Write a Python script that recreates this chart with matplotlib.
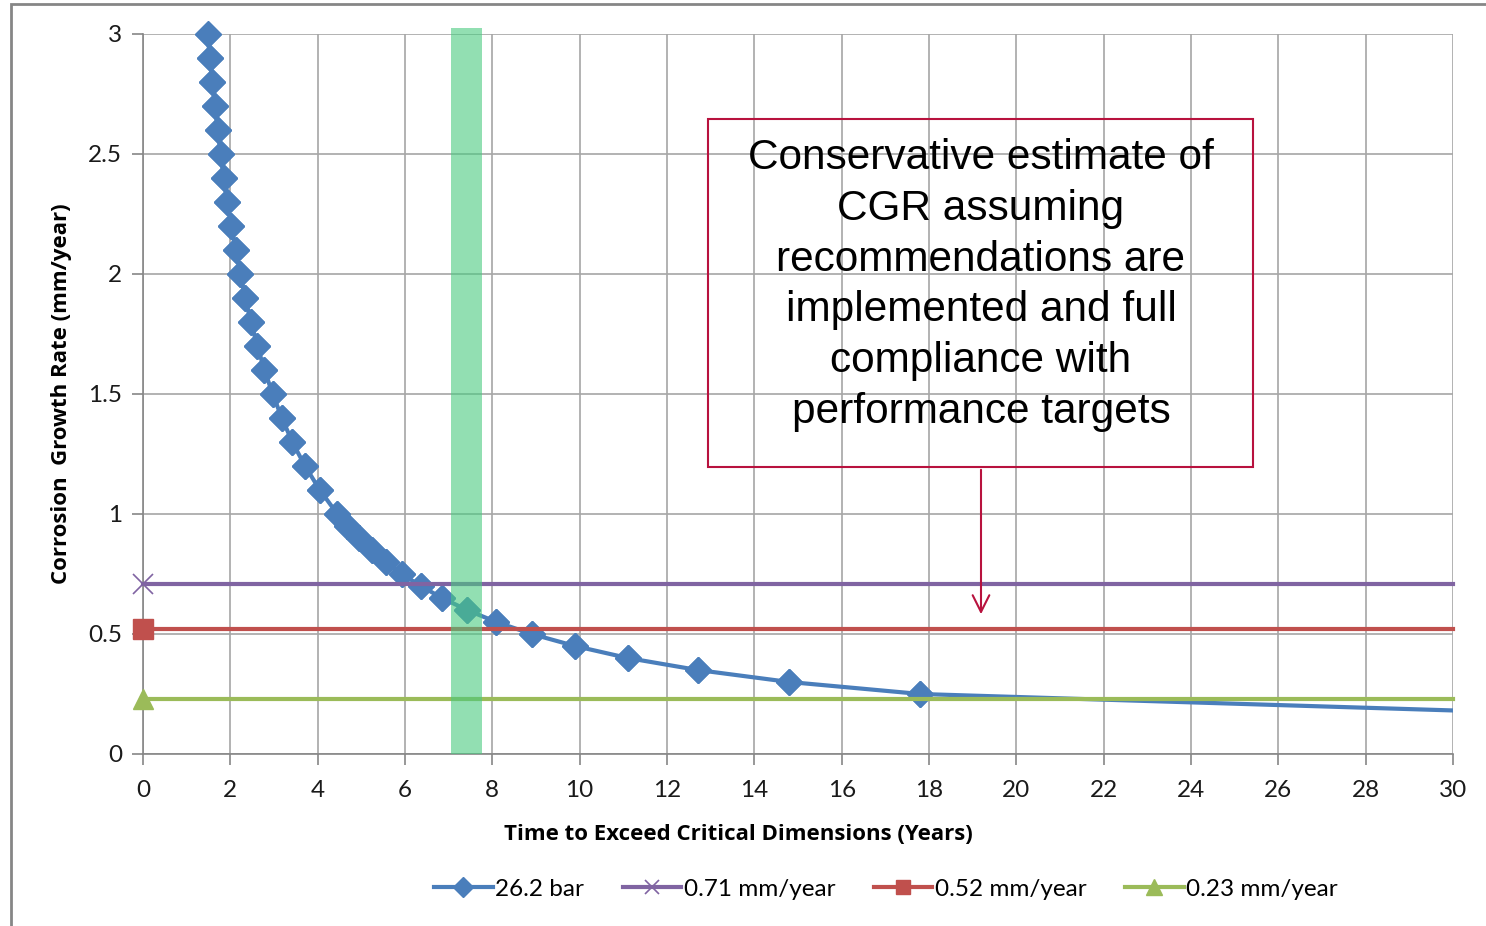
import numpy as np
import matplotlib
matplotlib.use('Agg')
import matplotlib.pyplot as plt
from matplotlib.patches import Rectangle

# CGR curve (26.2 bar): time to exceed critical dimensions vs corrosion growth rate
cgr = [3.0, 2.9, 2.8, 2.7, 2.6, 2.5, 2.4, 2.3, 2.2, 2.1, 2.0, 1.9, 1.8, 1.7, 1.6,
       1.5, 1.4, 1.3, 1.2, 1.1, 1.0, 0.95, 0.9, 0.85, 0.8, 0.75, 0.7, 0.65, 0.6,
       0.55, 0.5, 0.45, 0.4, 0.35, 0.3, 0.25, 0.1]
years = [1.48, 1.53, 1.59, 1.65, 1.71, 1.78, 1.85, 1.93, 2.02, 2.12, 2.23, 2.34,
         2.47, 2.62, 2.78, 2.97, 3.18, 3.42, 3.71, 4.05, 4.45, 4.68, 4.94, 5.24,
         5.56, 5.93, 6.36, 6.85, 7.42, 8.09, 8.90, 9.89, 11.1, 12.7, 14.8, 17.8, 44.5]

limit_vals = [0.71, 0.52, 0.23]
limit_labels = ['0.71 mm/year', '0.52 mm/year', '0.23 mm/year']
limit_x = [0, 30]

band = [7.05, 7.76]

note = ('Conservative estimate of\nCGR assuming\nrecommendations are\n'
        'implemented and full\ncompliance with\nperformance targets')

blue = '#4A7EBB'
colors = ['#8064A2', '#C0504D', '#9BBB59']
markers = ['x', 's', '^']
msizes = [14, 14, 15]
gridc = '#A6A6A6'
red_box = '#B8123E'
labfont = 'Open Sans'

W, H = 1486, 926
fig = plt.figure(figsize=(W / 100, H / 100), dpi=100)
ax = fig.add_axes([143 / W, 1 - 754 / H, (1453 - 143) / W, (754 - 34) / H])

# outer chart border
fig.patches.append(Rectangle((11 / W, -0.05), 1.1, 1 - 4 / H + 0.05, transform=fig.transFigure,
                             fill=False, edgecolor='#868686', linewidth=2))

ax.axvspan(band[0], band[1], ymin=0, ymax=1.008, color='#49CA80', alpha=0.6,
           linewidth=0, clip_on=False, zorder=4)

t = np.array(years)
c = np.array(cgr)
inside = t <= 30
ax.plot(t, c, color=blue, lw=3, marker='D', ms=13, markevery=list(np.where(inside)[0]),
        label='26.2 bar', zorder=3)
ax.plot(t[inside], c[inside], 'D', color=blue, ms=13, clip_on=False, zorder=3)

for v, lab, col, m, s in zip(limit_vals, limit_labels, colors, markers, msizes):
    ax.plot(limit_x, [v, v], color=col, lw=3, marker=m, ms=s, markevery=[0],
            mew=1.2 if m == 'x' else 1, label=lab, clip_on=False, zorder=3)

ax.set_xlim(0, 30)
ax.set_ylim(0, 3)
ax.set_xticks(np.arange(0, 31, 2))
ax.set_yticks([0, 0.5, 1, 1.5, 2, 2.5, 3])
ax.set_yticklabels(['0', '0.5', '1', '1.5', '2', '2.5', '3'])
ax.grid(True, color=gridc, linewidth=1.2)
ax.set_axisbelow(True)
for side in ['top', 'right']:
    ax.spines[side].set_visible(False)
for side in ['left', 'bottom']:
    ax.spines[side].set_color('#868686')
    ax.spines[side].set_linewidth(1.2)
ax.tick_params(axis='both', colors='#868686', length=8, width=1.2, labelsize=17.5,
               labelcolor='#1A1A1A')
ax.tick_params(axis='x', pad=11)
ax.tick_params(axis='y', pad=7)
for lbl in ax.get_xticklabels() + ax.get_yticklabels():
    lbl.set_fontfamily('Lato')

ax.set_xlabel('Time to Exceed Critical Dimensions (Years)', fontsize=16,
              fontweight='bold', family=labfont)
ax.set_ylabel('Corrosion  Growth Rate (mm/year)', fontsize=16, fontweight='bold',
              family=labfont)
ax.xaxis.label.set_va('center')
ax.yaxis.label.set_va('center')
ax.xaxis.set_label_coords((738 - 143) / (1453 - 143), -(835 - 754) / (754 - 34))
ax.yaxis.set_label_coords(-(143 - 62) / (1453 - 143), (754 - 394) / (754 - 34))

# annotation box and arrow
ax.add_patch(Rectangle((708, H - 467), 1253 - 708, 467 - 119, transform=None,
                       fill=True, facecolor='none', edgecolor=red_box, linewidth=1.5,
                       zorder=5))
fig.text(981 / W, 1 - 285 / H, note, ha='center', va='center', fontsize=30.5,
         family='Liberation Sans', linespacing=1.35, color='black')
ax.annotate('', xy=(981 / W, 1 - 617 / H), xytext=(981 / W, 1 - 467 / H),
            xycoords='figure fraction', textcoords='figure fraction',
            arrowprops=dict(arrowstyle='->', color=red_box, lw=1.5,
                            mutation_scale=30))

leg = fig.legend(loc='center', bbox_to_anchor=(886 / W, 1 - 889 / H), ncol=4,
                 frameon=False, prop={'family': 'Lato', 'size': 17.5},
                 handlelength=2.4, handletextpad=0.1, columnspacing=1.6,
                 markerscale=0.75)

fig.savefig('out.png', dpi=100)
